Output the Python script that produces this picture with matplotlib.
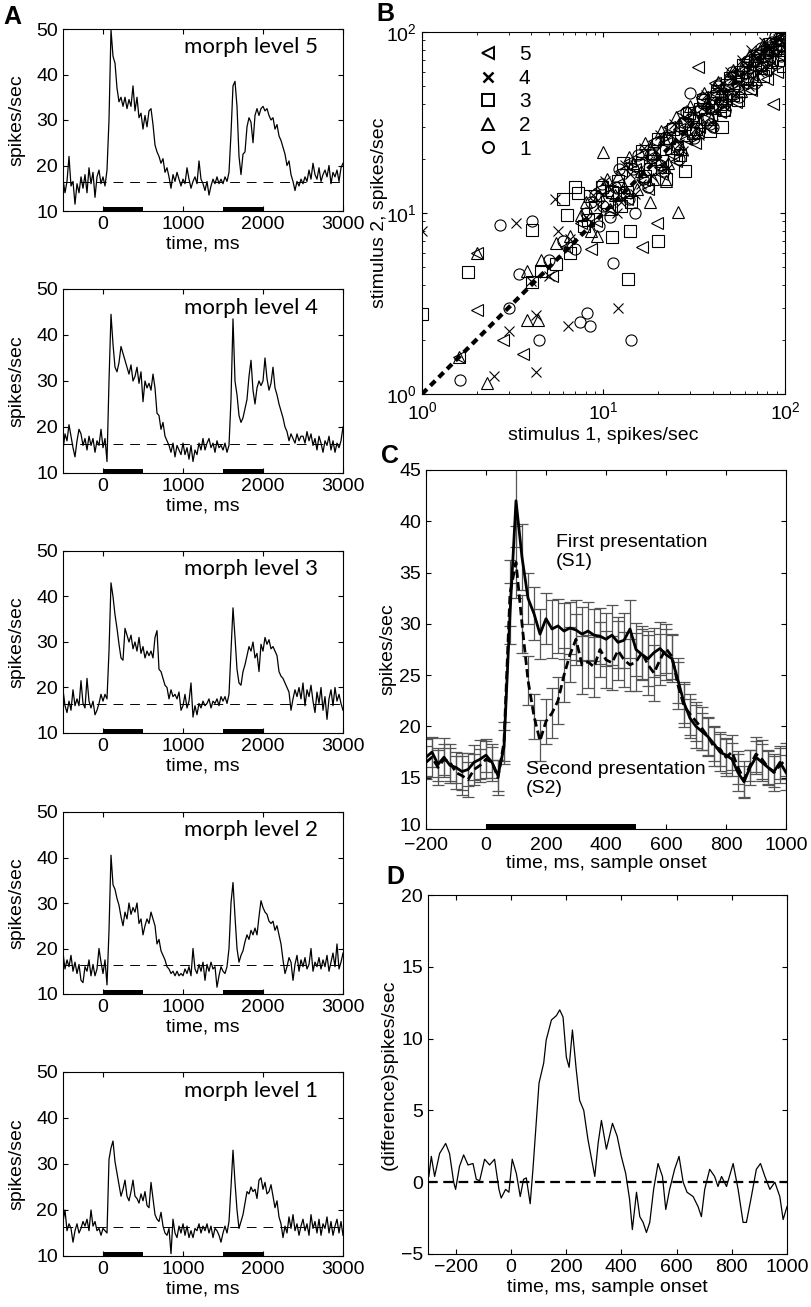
import numpy as np
import matplotlib
matplotlib.use("Agg")
import matplotlib.pyplot as plt
import matplotlib.transforms as mtransforms
from matplotlib.lines import Line2D

plt.rcParams['font.family'] = ['Liberation Sans', 'DejaVu Sans']
plt.rcParams['mathtext.fontset'] = 'custom'
plt.rcParams['mathtext.rm'] = 'Liberation Sans'
plt.rcParams['mathtext.it'] = 'Liberation Sans:italic'
plt.rcParams['mathtext.bf'] = 'Liberation Sans:bold'
plt.rcParams['lines.scale_dashes'] = False
plt.rcParams['xtick.direction'] = 'in'
plt.rcParams['ytick.direction'] = 'in'
plt.rcParams['xtick.top'] = True
plt.rcParams['ytick.right'] = True
plt.rcParams['xtick.major.size'] = 3.5
plt.rcParams['ytick.major.size'] = 3.5
plt.rcParams['xtick.minor.size'] = 2
plt.rcParams['ytick.minor.size'] = 2
plt.rcParams['font.size'] = 14
plt.rcParams['axes.linewidth'] = 0.8

# ---------------- panel A: PSTHs per morph level (25 ms bins, -500..3000 ms)
time_a = np.arange(-500, 3001, 25)
baseline_rate = 16.3
stim_periods = [(0, 500), (1500, 2000)]

rate_level5 = [
    17.0, 14.0, 16.5, 22.0, 15.5, 16.5, 11.5, 16.0, 14.0, 17.5, 15.0, 18.0, 14.0, 19.5, 16.0, 18.5, 13.0, 17.5, 19.0, 16.0,
    17.5, 15.5, 19.0, 30.0, 49.8, 44.0, 42.5, 37.0, 34.0, 35.0, 33.0, 35.0, 32.5, 34.5, 33.0, 37.5, 32.0, 35.0, 30.5, 31.5,
    28.0, 31.0, 28.5, 32.0, 32.5, 29.0, 24.5, 23.0, 22.0, 20.5, 21.5, 18.5, 19.5, 17.5, 15.0, 18.0, 16.5, 18.5, 17.0, 15.5,
    17.0, 16.0, 19.5, 17.0, 15.0, 16.5, 17.5, 16.0, 21.0, 17.0, 16.0, 14.5, 16.5, 13.5, 15.5, 17.0, 16.0, 17.5, 16.0, 17.0,
    16.0, 17.5, 16.5, 18.5, 27.0, 37.5, 38.5, 33.0, 22.0, 18.0, 22.5, 23.0, 28.5, 30.5, 29.5, 25.0, 31.0, 32.5, 31.0, 32.5,
    33.0, 32.0, 32.5, 31.0, 30.0, 30.5, 28.0, 29.0, 26.5, 25.5, 24.0, 22.5, 20.0, 21.0, 18.0, 16.5, 14.5, 16.5, 15.5, 17.0,
    16.0, 17.5, 16.5, 19.0, 17.0, 20.5, 18.0, 17.0, 19.5, 16.5, 18.0, 19.0, 17.5, 20.0, 16.0, 18.5, 17.5, 19.0, 16.5, 19.5,
    20.5]
rate_level4 = [
    15.0, 18.5, 17.0, 20.5, 18.0, 15.5, 13.5, 17.0, 19.5, 18.5, 16.0, 17.5, 15.0, 18.0, 16.0, 17.5, 14.5, 17.0, 16.0, 19.5,
    15.5, 17.5, 12.5, 30.0, 44.5, 38.0, 33.0, 32.0, 34.0, 37.5, 36.0, 34.5, 33.0, 31.5, 33.5, 30.0, 31.0, 33.0, 29.5, 32.0,
    25.5, 30.0, 28.5, 29.5, 28.0, 31.5, 28.5, 23.0, 22.5, 19.5, 21.0, 18.0, 17.0, 16.0, 14.5, 16.5, 13.5, 16.0, 15.0, 14.0,
    16.5, 14.0, 15.5, 13.0, 16.0, 12.5, 15.0, 14.0, 16.5, 15.0, 17.5, 15.0, 16.5, 17.5, 15.5, 16.5, 14.5, 17.0, 15.5, 16.0,
    15.0, 16.5, 14.5, 16.0, 26.0, 43.5, 30.0, 27.0, 22.5, 21.0, 22.0, 24.0, 26.0, 31.0, 34.5, 28.0, 25.0, 28.5, 30.0, 29.0,
    30.0, 35.0, 30.5, 28.0, 29.5, 33.0, 28.5, 27.0, 25.0, 23.5, 22.0, 20.0, 19.0, 17.0, 18.5, 17.5, 16.5, 18.5, 17.0, 18.0,
    18.0, 16.5, 19.0, 17.0, 18.5, 16.0, 17.5, 15.0, 18.0, 16.5, 14.5, 17.0, 16.0, 18.0, 15.0, 17.0, 14.5, 16.5, 15.5, 17.0,
    20.0]
rate_level3 = [
    19.5, 16.0, 14.5, 17.0, 15.0, 19.5, 16.0, 17.5, 16.0, 21.5, 16.5, 15.5, 22.0, 17.0, 15.5, 17.0, 14.0, 15.0, 16.5, 18.5,
    17.0, 18.5, 17.5, 28.0, 43.0, 40.0, 36.0, 33.0, 29.5, 26.5, 26.0, 33.0, 31.5, 30.0, 31.5, 28.5, 30.0, 28.0, 31.0, 27.5,
    29.0, 26.5, 28.0, 27.0, 28.0, 26.5, 31.0, 32.5, 24.0, 23.5, 22.0, 20.5, 20.0, 17.5, 19.5, 18.0, 18.5, 17.5, 19.0, 15.0,
    16.0, 18.5, 15.5, 17.0, 21.0, 13.5, 16.0, 14.0, 16.5, 15.5, 17.0, 16.0, 16.5, 17.5, 15.5, 17.0, 16.5, 17.5, 16.0, 18.0,
    17.0, 18.0, 16.5, 18.5, 28.0, 37.5, 31.0, 24.0, 21.0, 20.5, 23.5, 25.0, 27.0, 29.0, 28.0, 30.0, 26.5, 27.5, 23.5, 29.5,
    28.0, 31.0, 29.5, 30.5, 28.5, 29.0, 28.0, 27.0, 23.5, 22.5, 22.0, 21.0, 20.0, 19.0, 15.0, 17.5, 19.5, 18.0, 20.0, 17.5,
    21.0, 16.0, 19.5, 18.0, 20.5, 17.0, 14.5, 19.0, 16.5, 20.0, 15.0, 18.0, 13.0, 17.5, 19.5, 16.0, 20.0, 17.0, 18.5, 16.5,
    15.0]
rate_level2 = [
    19.0, 15.5, 17.5, 16.0, 18.5, 15.0, 17.0, 14.5, 16.5, 13.0, 12.5, 16.0, 15.0, 17.5, 14.0, 16.5, 14.0, 15.5, 20.0, 17.0,
    14.5, 17.5, 12.0, 24.0, 40.5, 34.0, 33.0, 31.0, 29.5, 27.0, 25.0, 28.0, 26.5, 30.0, 27.5, 29.0, 28.0, 30.0, 25.5, 26.5,
    23.0, 25.0, 26.5, 25.5, 28.0, 26.5, 25.0, 21.0, 22.0, 19.5, 18.5, 17.5, 16.0, 15.5, 14.5, 15.0, 14.0, 15.0, 14.0, 14.5,
    14.0, 15.5, 14.5, 16.0, 14.0, 20.0, 15.5, 14.5, 16.5, 15.0, 17.0, 13.0, 16.5, 15.0, 17.0, 15.5, 16.0, 11.5, 14.0, 16.0,
    15.0, 14.5, 16.0, 20.0, 30.0, 34.5, 27.0, 20.0, 17.0, 18.5, 19.5, 21.5, 23.0, 22.0, 24.0, 23.0, 24.5, 23.0, 27.0, 30.5,
    29.0, 28.0, 27.5, 26.0, 25.5, 26.0, 24.0, 25.0, 23.0, 21.0, 17.5, 14.5, 16.0, 18.0, 17.0, 13.0, 16.5, 18.5, 15.0, 17.5,
    16.0, 18.0, 15.5, 16.5, 20.0, 15.0, 17.0, 16.0, 18.0, 15.5, 17.5, 16.0, 18.5, 15.0, 17.0, 19.0, 16.0, 21.0, 15.5, 17.0,
    19.0]
rate_level1 = [
    17.5, 20.0, 15.5, 17.0, 16.0, 13.0, 15.5, 17.0, 15.0, 16.0, 17.5, 16.5, 18.0, 15.5, 20.0, 16.5, 17.5, 15.5, 16.0, 14.5,
    16.0, 15.5, 15.0, 31.0, 33.5, 35.0, 30.5, 28.0, 25.5, 23.0, 24.5, 26.5, 23.0, 22.0, 24.0, 26.5, 23.0, 22.5, 21.5, 23.5,
    22.0, 24.0, 21.0, 20.5, 26.0, 22.5, 19.0, 18.0, 17.5, 19.5, 16.5, 15.0, 14.5, 16.0, 10.5, 18.0, 15.0, 14.0, 16.5, 15.0,
    17.0, 14.5, 16.5, 14.0, 15.5, 14.0, 16.0, 15.5, 17.0, 15.0, 16.5, 15.5, 17.0, 15.0, 16.5, 14.0, 16.0, 15.5, 14.5, 13.0,
    15.0, 16.5, 15.0, 17.5, 25.0, 33.0, 26.0, 20.0, 16.0, 17.5, 19.0, 21.5, 24.0, 23.5, 25.0, 24.0, 24.5, 22.5, 26.5, 27.0,
    24.5, 26.0, 23.5, 24.0, 25.5, 23.0, 20.5, 22.0, 18.5, 17.0, 14.0, 16.5, 15.0, 18.5, 16.0, 19.0, 15.5, 17.0, 14.5, 16.5,
    18.0, 15.5, 17.0, 14.5, 19.0, 16.0, 17.5, 15.0, 18.0, 14.5, 17.0, 16.0, 18.5, 15.0, 17.5, 14.5, 16.5, 18.0, 15.0, 17.5,
    14.5]

# ---------------- panel B: stimulus 1 vs stimulus 2 rates, per morph level
stim1_level5 = [2.0, 33.3, 19.6, 16.4, 86.0, 2.0, 2.8, 3.6, 1.6, 6.2, 7.5, 9.1, 10.5, 12.0, 13.5, 15.0, 16.8, 18.0, 20.5,
                22.0, 24.0, 26.0, 28.5, 31.0, 33.5, 36.0, 39.0, 42.0, 45.0, 48.0, 52.0, 55.0, 58.0, 62.0, 66.0, 70.0,
                74.0, 78.0, 82.0, 88.0, 92.0, 95.0, 90.0, 80.0, 5.2, 8.5,
                9.5, 11.0, 12.5, 14.0, 16.0, 17.5, 19.0, 21.0, 23.0, 25.0, 27.0, 29.0, 32.0, 35.0, 38.0, 41.0, 44.0,
                47.0, 50.0, 54.0, 60.0, 65.0, 72.0, 78.0, 85.0, 94.0, 97.0, 68.0]
stim2_level5 = [6.0, 64.0, 8.8, 6.5, 40.0, 2.9, 2.0, 1.66, 1.6, 6.5, 8.8, 9.0, 12.8, 14.5, 12.0, 17.5, 15.2, 20.5, 18.0,
                24.5, 21.0, 29.0, 25.5, 34.0, 30.0, 38.5, 35.0, 45.5, 40.5, 52.0, 47.0, 60.0, 52.0, 66.0, 58.0, 73.0,
                65.0, 80.0, 72.0, 90.0, 83.0, 88.0, 60.0, 55.0, 4.5, 6.3,
                13.5, 10.5, 17.0, 19.5, 21.0, 13.5, 25.0, 16.5, 30.0, 19.5, 36.0, 33.5, 24.5, 44.0, 30.0, 52.0, 36.0,
                42.5, 58.0, 41.0, 70.0, 48.0, 80.0, 62.0, 70.0, 75.0, 95.0, 63.0]
stim1_level4 = [1.0, 3.3, 5.4, 5.6, 65.0, 12.0, 6.4, 4.25, 3.03, 4.25, 2.5, 4.0, 5.0, 6.5, 8.0, 9.5, 11.0, 12.5, 14.0,
                16.0, 17.5, 19.5, 21.5, 23.5, 26.0, 29.0, 32.0, 35.0, 38.0, 41.0, 44.0, 48.0, 52.0, 56.0, 60.0, 64.0,
                69.0, 74.0, 80.0, 86.0, 92.0,
                8.8, 10.2, 11.8, 13.2, 15.0, 16.8, 18.5, 20.5, 22.5, 24.5, 27.5, 30.5, 33.5, 36.5, 40.0, 43.0, 46.0,
                50.0, 54.0, 58.0, 63.0, 67.0, 72.0, 77.0, 83.0, 90.0, 96.0]
stim2_level4 = [8.0, 8.8, 11.9, 8.0, 80.0, 2.97, 2.38, 2.73, 2.24, 1.32, 1.25, 4.2, 4.5, 7.2, 9.5, 11.0, 13.5, 11.5,
                16.5, 14.5, 19.5, 22.0, 19.0, 27.0, 24.0, 31.5, 29.0, 38.0, 41.0, 37.0, 48.0, 44.0, 56.0, 52.0, 64.0,
                58.0, 72.0, 70.0, 84.0, 78.0, 92.0,
                12.5, 15.0, 10.0, 18.5, 12.8, 23.0, 16.0, 27.0, 17.5, 31.0, 22.0, 37.0, 27.0, 45.0, 31.0, 50.0, 39.0,
                60.0, 46.0, 70.0, 50.0, 76.0, 60.0, 88.0, 66.0, 82.0, 98.0]
stim1_level3 = [1.0, 1.8, 4.02, 6.0, 6.27, 6.97, 7.27, 8.43, 19.9, 14.0, 13.7, 11.1, 97.9, 4.02, 4.5, 5.5, 6.5, 7.8,
                9.0, 10.5, 12.0, 13.5, 15.5, 17.0, 19.0, 21.0, 23.0, 25.5, 28.0, 31.0, 34.0, 37.0, 40.0, 44.0, 48.0,
                52.0, 57.0, 62.0, 68.0, 74.0, 80.0, 88.0, 45.0, 28.0, 12.5,
                8.2, 9.8, 11.2, 12.8, 14.2, 16.2, 18.0, 20.0, 22.0, 24.0, 26.5, 29.5, 32.5, 35.5, 38.5, 42.0, 46.0,
                50.0, 55.0, 59.0, 64.0, 70.0, 76.0, 83.0, 92.0, 96.0]
stim2_level3 = [2.75, 4.75, 8.05, 11.9, 9.75, 14.0, 12.9, 12.4, 7.0, 8.0, 4.3, 7.34, 64.9, 4.17, 4.8, 5.2, 6.0, 8.5,
                10.8, 11.5, 15.0, 13.0, 18.5, 16.0, 21.5, 19.5, 26.0, 23.0, 31.0, 27.5, 37.5, 33.0, 43.0, 39.0, 51.0,
                45.0, 60.0, 55.0, 70.0, 63.0, 78.0, 80.0, 30.0, 17.0, 11.0,
                9.2, 14.0, 13.0, 19.0, 11.5, 22.0, 17.5, 25.5, 15.5, 29.0, 21.0, 35.5, 29.0, 42.0, 28.5, 47.0, 37.0,
                56.0, 42.0, 66.0, 49.0, 74.0, 57.0, 86.0, 70.0, 92.0]
stim1_level2 = [2.0, 10.0, 25.8, 3.77, 4.37, 1.6, 2.27, 3.8, 4.5, 5.5, 6.5, 7.5, 8.5, 9.5, 10.8, 12.0, 13.0, 14.5,
                16.0, 18.0, 19.5, 21.5, 23.5, 26.0, 28.0, 31.0, 34.0, 37.0, 41.0, 45.0, 50.0, 55.0, 61.0, 67.0, 73.0,
                80.0, 87.0, 93.0, 18.0, 22.0,
                8.0, 9.2, 10.5, 11.5, 13.8, 15.2, 17.0, 18.8, 20.8, 22.8, 25.0, 27.0, 30.0, 33.0, 36.0, 39.0, 43.0,
                47.0, 52.0, 57.0, 63.0, 69.0, 76.0, 84.0, 91.0, 97.0]
stim2_level2 = [6.0, 21.8, 10.1, 2.56, 2.56, 1.6, 1.15, 4.8, 5.5, 6.8, 7.5, 9.8, 8.0, 12.5, 10.5, 16.0, 14.0, 19.0,
                17.0, 22.5, 20.0, 26.0, 23.0, 30.5, 27.0, 35.0, 32.0, 41.0, 38.0, 49.0, 46.0, 58.0, 56.0, 70.0, 66.0,
                82.0, 80.0, 90.0, 11.5, 15.0,
                11.5, 7.5, 15.5, 12.5, 20.5, 13.5, 24.5, 15.5, 28.5, 19.0, 34.0, 22.5, 39.0, 28.0, 46.0, 33.0, 53.0,
                40.0, 62.0, 47.0, 74.0, 55.0, 86.0, 68.0, 99.0, 80.0]
stim1_level1 = [2.69, 4.02, 30.0, 14.9, 81.0, 3.44, 3.03, 4.41, 8.08, 7.42, 8.43, 14.1, 1.61, 11.3, 5.0, 6.0, 7.0,
                8.0, 9.0, 10.0, 11.5, 13.0, 14.5, 16.5, 18.5, 20.5, 22.5, 25.0, 27.5, 30.5, 34.0, 37.5, 41.0, 45.0,
                50.0, 55.0, 60.0, 66.0, 72.0, 78.0, 85.0, 92.0, 40.0, 9.5,
                8.5, 9.8, 10.8, 12.2, 13.8, 15.5, 17.5, 19.5, 21.5, 23.5, 26.0, 28.5, 31.5, 35.0, 38.5, 42.5, 46.5,
                51.0, 56.0, 62.0, 68.0, 74.0, 81.0, 88.0, 95.0]
stim2_level1 = [8.6, 9.0, 45.8, 9.96, 83.0, 4.58, 2.97, 1.99, 2.79, 2.51, 2.38, 1.99, 1.19, 5.27, 5.5, 7.0, 6.3,
                10.0, 12.5, 11.0, 14.0, 13.0, 17.5, 15.5, 21.0, 18.5, 25.5, 23.5, 32.0, 28.0, 37.0, 34.0, 45.0, 41.0,
                54.0, 50.0, 64.0, 60.0, 76.0, 70.0, 88.0, 85.0, 30.0, 8.5,
                11.5, 14.5, 9.5, 17.5, 12.0, 21.0, 14.0, 24.5, 17.0, 29.5, 20.0, 36.0, 26.0, 43.0, 31.0, 50.0, 36.5,
                60.0, 44.0, 69.0, 52.0, 82.0, 62.0, 95.0, 74.0]
unity_line = [1, 100]

# ---------------- panel C: population response, first vs second presentation
time_c = np.arange(-200, 1001, 20)
rate_s1 = [17.0, 17.5, 16.3, 17.0, 16.2, 16.0, 15.6, 15.8, 16.5, 16.8,
           17.2, 16.5, 15.2, 18.0, 31.0, 42.0, 36.5, 32.5, 31.0, 29.0,
           30.5, 29.5, 29.8, 29.3, 29.6, 29.4, 29.0, 29.3, 28.9, 28.8,
           28.5, 28.9, 28.2, 28.4, 29.5, 27.5, 27.0, 26.6, 27.2, 27.6,
           27.0, 26.6, 24.5, 22.3, 20.8, 20.0, 19.5, 19.0, 18.3, 17.5,
           17.2, 16.8, 15.5, 14.6, 16.0, 17.0, 16.5, 16.0, 15.6, 16.5,
           15.5]
rate_s2 = [16.5, 17.0, 16.0, 16.8, 16.5, 15.5, 15.2, 14.8, 15.8, 16.2,
           16.8, 16.5, 15.0, 18.5, 33.0, 36.0, 30.0, 24.5, 21.0, 18.6,
           20.5, 21.3, 22.5, 25.0, 27.0, 28.5, 26.0, 26.3, 25.8, 27.5,
           26.5, 26.2, 27.4, 26.5, 26.0, 26.3, 27.2, 26.0, 25.2, 26.5,
           27.6, 26.8, 24.0, 22.0, 21.2, 20.5, 19.8, 19.0, 18.0, 17.8,
           17.0, 17.5, 16.0, 14.8, 16.2, 17.3, 16.8, 16.0, 15.5, 16.2,
           16.8]
sem_s1 = [1.8, 1.5, 1.6, 1.9, 1.7, 1.5, 1.8, 1.6, 1.7, 1.9,
          1.6, 1.8, 1.5, 1.7, 3.0, 4.5, 3.2, 2.5, 2.6, 2.4,
          2.5, 2.8, 2.6, 2.7, 2.5, 2.9, 2.6, 2.8, 2.5, 2.7,
          2.6, 2.9, 2.5, 2.7, 2.8, 2.6, 2.5, 2.7, 2.4, 2.6,
          2.5, 2.3, 2.2, 2.0, 1.9, 2.1, 1.8, 1.9, 1.7, 1.8,
          1.7, 1.6, 1.8, 1.5, 1.7, 1.6, 1.8, 1.7, 1.5, 1.6,
          1.7]
sem_s2 = [1.6, 1.9, 1.7, 1.5, 1.8, 1.6, 1.9, 1.7, 1.5, 1.6,
          1.8, 1.5, 1.7, 1.9, 3.2, 3.5, 2.8, 2.4, 2.2, 2.0,
          2.2, 2.4, 2.3, 2.6, 2.7, 2.5, 2.8, 2.6, 2.9, 2.7,
          2.8, 2.6, 2.9, 2.7, 2.5, 2.8, 2.6, 2.9, 2.7, 2.5,
          2.4, 2.2, 2.3, 2.1, 2.0, 1.9, 2.1, 1.8, 1.9, 1.7,
          1.8, 1.7, 1.6, 1.8, 1.5, 1.7, 1.9, 1.6, 1.8, 1.7,
          1.6]
sample_period = (0, 500)

# ---------------- panel D: difference S1 - S2
time_d = [-297, -288, -276, -258, -236, -222, -207, -200, -186, -171,
          -155, -137, -125, -113, -95, -77, -59, -43, -35, -19,
          -7, 5, 20, 34, 46, 56, 70, 80, 102, 119,
          128, 147, 165, 177, 189, 201, 211, 223, 237, 249,
          264, 279, 304, 316, 328, 346, 368, 385, 400, 416,
          430, 440, 455, 467, 479, 491, 503, 517, 533, 549,
          561, 575, 593, 609, 624, 638, 660, 678, 690, 702,
          720, 738, 750, 763, 781, 805, 823, 841, 853, 871,
          889, 904, 920, 938, 956, 974, 986, 1000]
diff_d = [0.4, 1.8, 0.4, 2.0, 2.7, 2.0, 0.0, -0.5, 1.1, 1.9,
          1.2, 1.3, 0.2, 0.1, 1.6, 1.2, 1.6, -0.5, -1.1, -0.5,
          -0.7, 1.6, 0.6, -1.0, 0.2, 0.3, -1.5, 0.9, 6.9, 8.3,
          9.9, 11.3, 11.6, 12.0, 11.5, 8.7, 8.0, 10.6, 7.8, 5.7,
          5.0, 3.0, 0.4, 2.7, 4.3, 2.3, 4.1, 3.2, 1.8, 0.6,
          -1.2, -3.3, -0.7, -2.4, -2.8, -3.5, -2.8, -0.5, 1.3, 0.4,
          -1.9, -0.5, 0.9, 1.8, 0.0, -0.7, -1.0, -1.7, -2.4, -0.5,
          0.9, 0.4, -0.3, 0.4, -0.3, 1.3, -0.5, -2.8, -2.8, -1.0,
          0.9, 1.3, 0.4, -0.5, 0.0, -1.0, -2.6, -1.7]

W, H = 812, 1307


def px_axes(fig, left, top, right, bottom):
    return fig.add_axes([left / W, 1 - bottom / H, (right - left) / W, (bottom - top) / H])


def psth_panel(ax, rates, level):
    ax.plot(time_a, rates, color='k', lw=0.9)
    ax.axhline(baseline_rate, color='k', lw=0.7, dashes=(7, 5))
    for start, stop in stim_periods:
        ax.fill_between([start, stop], 10, 10.9, color='k', lw=0)
    ax.set_xlim(-500, 3000)
    ax.set_ylim(10, 50)
    ax.set_xticks([0, 1000, 2000, 3000])
    ax.set_yticks([10, 20, 30, 40, 50])
    ax.set_xlabel('time, ms', labelpad=2)
    ax.set_ylabel('spikes/sec', labelpad=8)
    ax.text(0.91, 0.866, f'morph level {level}', transform=ax.transAxes,
            ha='right', va='baseline', family='Lato', fontsize=16)


fig = plt.figure(figsize=(W / 100, H / 100), dpi=100)

a_rows = [(29, 211), (289, 473), (551, 733), (812, 994), (1072, 1256)]
a_rates = [rate_level5, rate_level4, rate_level3, rate_level2, rate_level1]
for (top, bottom), rates, level in zip(a_rows, a_rates, [5, 4, 3, 2, 1]):
    psth_panel(px_axes(fig, 63, top, 343, bottom), rates, level)

# panel B
ax_b = px_axes(fig, 422, 32, 785, 394)
markers = {5: '<', 4: 'x', 3: 's', 2: '^', 1: 'o'}
scatter_sets = {5: (stim1_level5, stim2_level5), 4: (stim1_level4, stim2_level4),
                3: (stim1_level3, stim2_level3), 2: (stim1_level2, stim2_level2),
                1: (stim1_level1, stim2_level1)}
handles = []
for level in [5, 4, 3, 2, 1]:
    xs, ys = scatter_sets[level]
    ms = 6.5 if markers[level] == 'x' else 8
    ax_b.plot(xs, ys, ls='none', marker=markers[level], mfc='none', mec='k', ms=ms, mew=0.8)
    handles.append(Line2D([], [], ls='none', marker=markers[level], mfc='none', mec='k',
                          ms=ms, mew=1.4 if markers[level] != 'x' else 1.8))
ax_b.plot(unity_line, unity_line, color='k', lw=3, dashes=(5, 3.5), zorder=3)
ax_b.set_xscale('log')
ax_b.set_yscale('log')
ax_b.set_xlim(1, 100)
ax_b.set_ylim(1, 100)
ax_b.tick_params(axis='x', which='major', pad=5)
ax_b.set_xlabel('stimulus 1, spikes/sec', labelpad=3)
ax_b.set_ylabel('stimulus 2, spikes/sec', labelpad=-1)
ax_b.legend(handles, ['5', '4', '3', '2', '1'], loc='upper left', bbox_to_anchor=(0.095, 1.015),
            frameon=False, handletextpad=0.9, labelspacing=0.22, handlelength=1.2, fontsize=15)

# panel C
ax_c = px_axes(fig, 426, 470, 786, 829)
c1 = ax_c.errorbar(time_c, rate_s1, yerr=sem_s1, color='k', lw=2, ecolor='#555555',
                   elinewidth=0.9, capsize=4, capthick=0.9)
c2 = ax_c.errorbar(time_c, rate_s2, yerr=sem_s2, color='k', lw=2, ecolor='#555555',
                   elinewidth=0.9, capsize=4, capthick=0.9)
c2[0].set_dashes((6, 3))
ax_c.fill_between(list(sample_period), 10, 10.45, color='k', lw=0)
ax_c.set_xlim(-200, 1000)
ax_c.set_ylim(10, 45)
ax_c.set_xticks(range(-200, 1001, 200))
ax_c.set_yticks(range(10, 46, 5))
ax_c.tick_params(axis='x', pad=5.5)
# the lowest y label sits a touch higher, clear of the -200 below it
low_label = ax_c.yaxis.get_major_ticks()[0].label1
low_label.set_transform(low_label.get_transform()
                        + mtransforms.ScaledTranslation(0, 3 / 72, fig.dpi_scale_trans))
ax_c.set_xlabel('time, ms, sample onset', labelpad=1)
ax_c.set_ylabel('spikes/sec', labelpad=2)
ax_c.text(232, 38.8, 'First presentation\n(S1)', va='top', ha='left', fontsize=14, linespacing=1.15)
ax_c.text(132, 16.6, 'Second presentation\n(S2)', va='top', ha='left', fontsize=14, linespacing=1.15)

# panel D
ax_d = px_axes(fig, 428, 895, 787, 1254)
ax_d.plot(time_d, diff_d, color='k', lw=0.9)
ax_d.axhline(0, color='k', lw=1.6, dashes=(7, 4))
ax_d.set_xlim(-300, 1000)
ax_d.set_ylim(-5, 20)
ax_d.set_xticks(range(-200, 1001, 200))
ax_d.set_yticks(range(-5, 21, 5))
ax_d.set_xlabel('time, ms, sample onset', labelpad=2)
ax_d.set_ylabel('(difference)spikes/sec', labelpad=2)

for letter, (lx, ly) in {'A': (3, 5), 'B': (376, 2), 'C': (381, 444), 'D': (386, 865)}.items():
    fig.text(lx / W, 1 - ly / H, letter, fontsize=18, fontweight='bold', va='top', ha='left')

fig.savefig('out.png', dpi=100)
